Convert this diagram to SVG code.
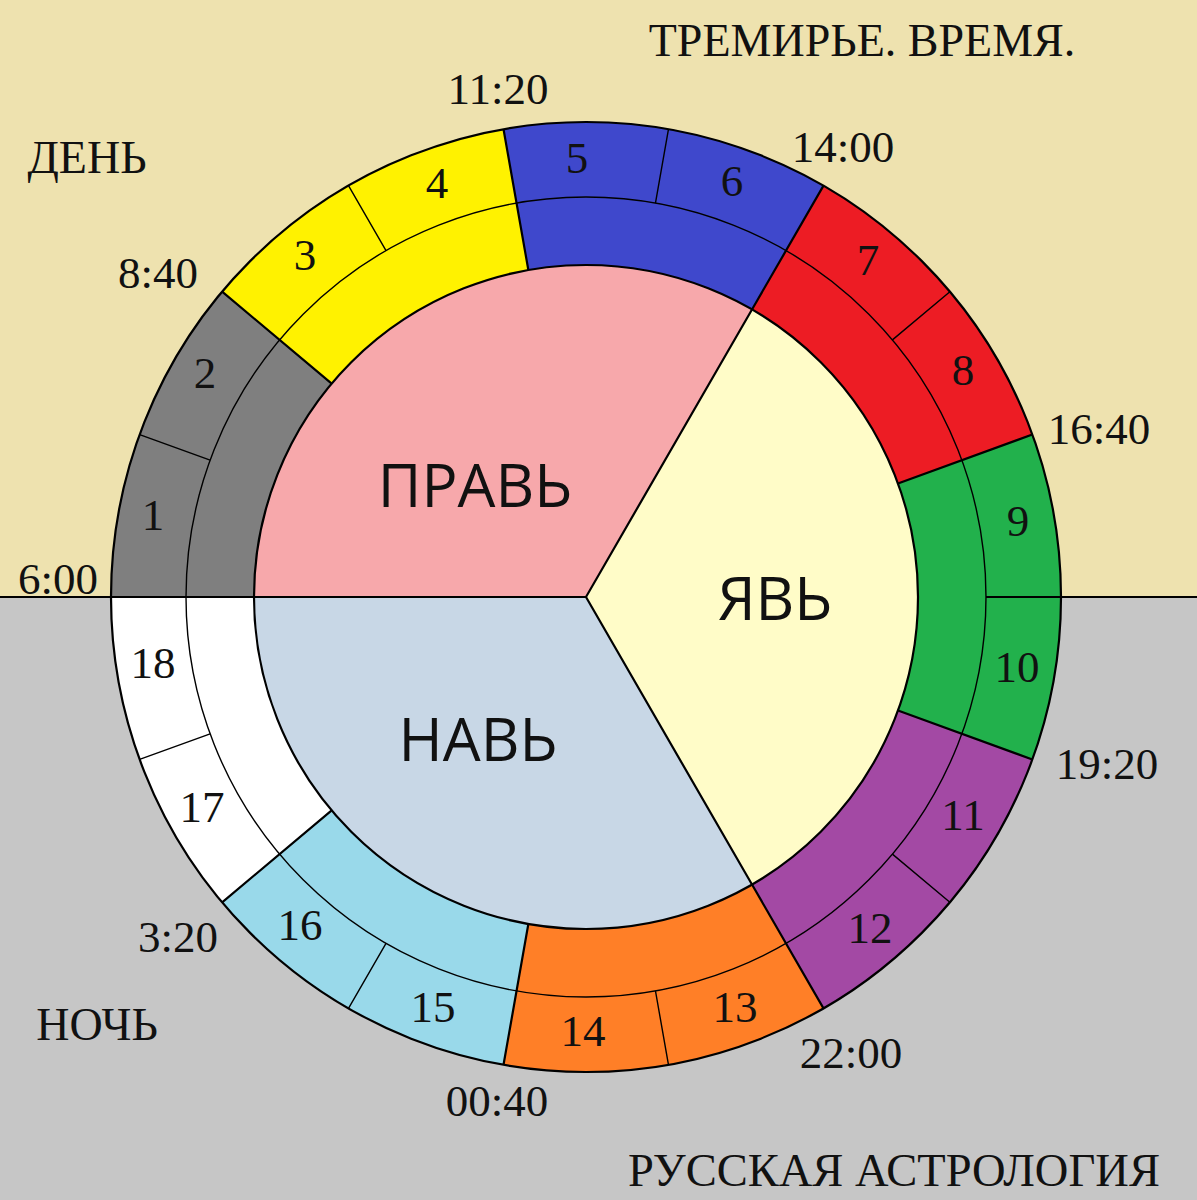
<svg xmlns="http://www.w3.org/2000/svg" width="1197" height="1200" viewBox="0 0 1197 1200">
<style>
.serif{font-family:"Liberation Serif","Times New Roman",serif;font-size:45px;fill:#111;text-anchor:middle}
.num{font-family:"Liberation Serif","Times New Roman",serif;font-size:45px;fill:#111;text-anchor:middle}
.big{font-family:"Open Sans","Noto Sans",sans-serif;font-size:60px;fill:#111;text-anchor:middle}
.bound{stroke:#000;stroke-width:2.2;fill:none}
.sub{stroke:#000;stroke-width:1.4;fill:none}
</style>
<rect x="0" y="0" width="1197" height="597" fill="#EEE2AF"/>
<rect x="0" y="597" width="1197" height="603" fill="#C6C6C6"/>
<g id="sectors">
<g id="seg-1-2"><path d="M586 597 L111 597 A475 475 0 0 1 222.13 291.67 Z" fill="#7F7F7F"/></g>
<g id="seg-3-4"><path d="M586 597 L222.13 291.67 A475 475 0 0 1 503.52 129.22 Z" fill="#FFF200"/></g>
<g id="seg-5-6"><path d="M586 597 L503.52 129.22 A475 475 0 0 1 823.5 185.64 Z" fill="#3F48CC"/></g>
<g id="seg-7-8"><path d="M586 597 L823.5 185.64 A475 475 0 0 1 1032.35 434.54 Z" fill="#ED1C24"/></g>
<g id="seg-9-10"><path d="M586 597 L1032.35 434.54 A475 475 0 0 1 1032.35 759.46 Z" fill="#22B14C"/></g>
<g id="seg-11-12"><path d="M586 597 L1032.35 759.46 A475 475 0 0 1 823.5 1008.36 Z" fill="#A349A4"/></g>
<g id="seg-13-14"><path d="M586 597 L823.5 1008.36 A475 475 0 0 1 503.52 1064.78 Z" fill="#FF7F27"/></g>
<g id="seg-15-16"><path d="M586 597 L503.52 1064.78 A475 475 0 0 1 222.13 902.33 Z" fill="#99D9EA"/></g>
<g id="seg-17-18"><path d="M586 597 L222.13 902.33 A475 475 0 0 1 111 597 Z" fill="#FFFFFF"/></g>
</g>
<g id="pie">
<g id="prav"><path d="M586 597 L254 597 A332 332 0 0 1 752 309.48 Z" fill="#F7A8AB"/></g>
<g id="yav"><path d="M586 597 L752 309.48 A332 332 0 0 1 752 884.52 Z" fill="#FFFCC8"/></g>
<g id="nav"><path d="M586 597 L752 884.52 A332 332 0 0 1 254 597 Z" fill="#C8D7E6"/></g>
</g>
<g id="connectors">
<circle cx="586" cy="597" r="400" class="sub" stroke-width="1.3"/>
<path class="sub" d="M210.12 460.19 L139.65 434.54 M386 250.59 L348.5 185.64 M655.46 203.08 L668.48 129.22 M892.42 339.88 L949.87 291.67 M892.42 854.12 L949.87 902.33 M655.46 990.92 L668.48 1064.78 M386 943.41 L348.5 1008.36 M210.12 733.81 L139.65 759.46"/>
<path class="bound" d="M331.67 383.59 L222.13 291.67 M528.35 270.04 L503.52 129.22 M752 309.48 L823.5 185.64 M897.98 483.45 L1032.35 434.54 M897.98 710.55 L1032.35 759.46 M752 884.52 L823.5 1008.36 M528.35 923.96 L503.52 1064.78 M331.67 810.41 L222.13 902.33"/>
<path class="bound" d="M0 597 L586 597 L752 309.48 M586 597 L752 884.52 M986 597 L1197 597"/>
<circle cx="586" cy="597" r="332" class="bound" stroke-width="2.6"/>
<circle cx="586" cy="597" r="475" class="bound" stroke-width="3"/>
</g>
<g id="numbers">
<text class="num" x="153" y="530">1</text>
<text class="num" x="205" y="388">2</text>
<text class="num" x="305" y="270">3</text>
<text class="num" x="437" y="198">4</text>
<text class="num" x="577" y="173">5</text>
<text class="num" x="732" y="196">6</text>
<text class="num" x="868" y="275">7</text>
<text class="num" x="963" y="385">8</text>
<text class="num" x="1018" y="536">9</text>
<text class="num" x="1017" y="682">10</text>
<text class="num" x="963" y="830">11</text>
<text class="num" x="870" y="943">12</text>
<text class="num" x="735" y="1022">13</text>
<text class="num" x="583" y="1046">14</text>
<text class="num" x="433" y="1022">15</text>
<text class="num" x="300" y="940">16</text>
<text class="num" x="202" y="822">17</text>
<text class="num" x="153" y="678">18</text>
</g>
<g id="times">
<text class="serif" x="498" y="104">11:20</text>
<text class="serif" x="843" y="162">14:00</text>
<text class="serif" x="158" y="288">8:40</text>
<text class="serif" x="1099" y="444">16:40</text>
<text class="serif" x="58" y="594">6:00</text>
<text class="serif" x="1107" y="779">19:20</text>
<text class="serif" x="178" y="952">3:20</text>
<text class="serif" x="851" y="1068">22:00</text>
<text class="serif" x="497" y="1116">00:40</text>
</g>
<g id="labels">
<text class="big" x="475" y="507">ПРАВЬ</text>
<text class="big" x="775" y="620">ЯВЬ</text>
<text class="big" x="478" y="761">НАВЬ</text>
<text class="serif" x="862" y="56" style="font-size:46px">ТРЕМИРЬЕ. ВРЕМЯ.</text>
<text class="serif" x="87" y="173" style="font-size:46px">ДЕНЬ</text>
<text class="serif" x="97" y="1040" style="font-size:46px">НОЧЬ</text>
<text class="serif" x="894" y="1186" style="font-size:46.5px">РУССКАЯ АСТРОЛОГИЯ</text>
</g>
</svg>
